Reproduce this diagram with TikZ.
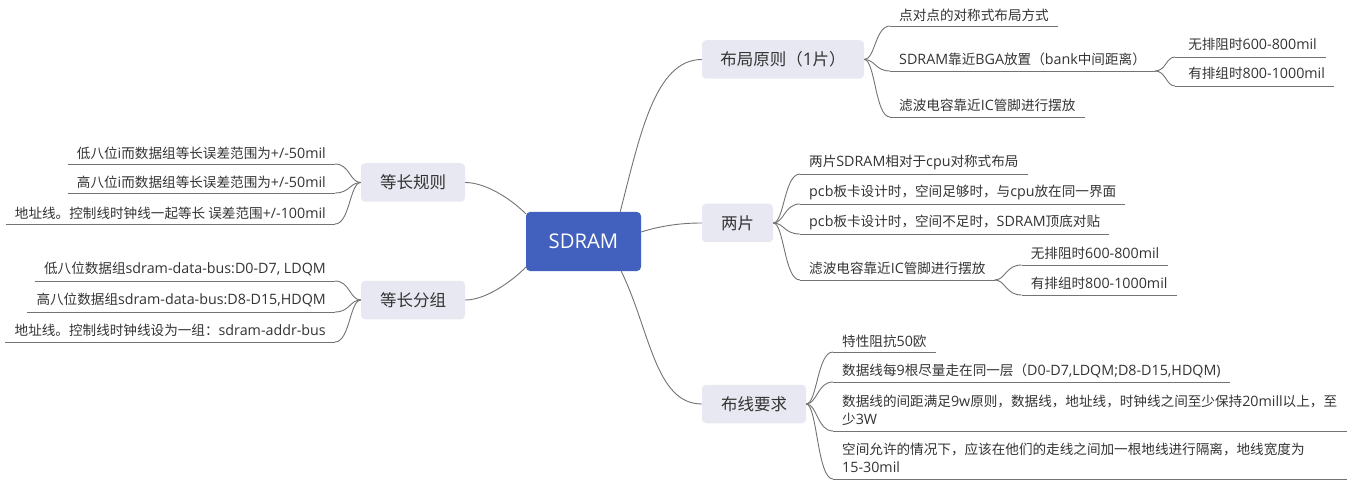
\documentclass[tikz,border=0pt]{standalone}
\usepackage{fontspec}
\setmainfont{Noto Sans CJK SC}
\newfontfamily\latf[Scale=1.05]{Open Sans}
\newcommand\LA[1]{{\latf #1}}
\usetikzlibrary{calc}
\definecolor{txt}{HTML}{333333}
\definecolor{lnc}{HTML}{737373}
\definecolor{topic}{HTML}{E8E8F2}
\definecolor{rootc}{HTML}{4260BD}
\tikzset{
  ln/.style={draw=lnc, line width=0.9pt},
  rootbox/.style={fill=rootc, rounded corners=4pt, text=white, font=\latf\fontsize{19.3}{24}\selectfont, minimum width=115pt, minimum height=59pt, inner sep=0pt},
  topicbox/.style={fill=topic, rounded corners=4pt, text=txt, font=\fontsize{16.5}{20}\selectfont, minimum height=38.5pt, inner sep=0pt},
  leaf/.style={text=txt, font=\fontsize{13.6}{18}\selectfont, inner sep=0pt, align=left},
}
\newcommand\brR[2]{\draw[ln] (#1) .. controls ($(#1)+(11,0)$) and ($(#1 |- #2)+(11,0)$) .. (#2);}
\newcommand\brL[2]{\draw[ln] (#1) .. controls ($(#1)+(-11,0)$) and ($(#1 |- #2)+(-11,0)$) .. (#2);}
\begin{document}
\begin{tikzpicture}[x=1pt,y=-1pt]
\useasboundingbox (0,0) rectangle (1347,481);
% main nodes
\node[rootbox] (root) at (583.5,241.5) {SDRAM};
\node[topicbox, minimum width=162pt] (r1) at (783,59.5) {布局原则（\LA{1}片）};
\node[topicbox, minimum width=71pt] (r2) at (737.5,223) {两片};
\node[topicbox, minimum width=104pt] (r3) at (754,404) {布线要求};
\node[topicbox, minimum width=104pt] (l1) at (413,182.5) {等长规则};
\node[topicbox, minimum width=104pt] (l2) at (413,300) {等长分组};
% root connectors
\draw[ln] ([xshift=-21pt]root.north east) .. controls (640,135) and (655,59.5) .. (r1.west);
\draw[ln] ([yshift=9.5pt]root.east) .. controls (660,226) and (680,223) .. (r2.west);
\draw[ln] ([xshift=-20pt]root.south east) .. controls (650,330) and (655,404) .. (r3.west);
\draw[ln] ([yshift=-2pt]root.north west) .. controls (510,198) and (485,182.5) .. (l1.east);
\draw[ln] ([yshift=4pt]root.south west) .. controls (510,283) and (485,300) .. (l2.east);

% ---- r1 group
\node[leaf, anchor=west] (a1) at (899,15) {点对点的对称式布局方式};
\node[leaf, anchor=west] (a2) at (899,59) {\LA{SDRAM}靠近\LA{BGA}放置（\LA{bank}中间距离）};
\node[leaf, anchor=west] (a3) at (899,105) {滤波电容靠近\LA{IC}管脚进行摆放};
\coordinate (a1u) at (890,26);
\coordinate (a2u) at (890,71);
\coordinate (a3u) at (890,117);
\brR{r1.east}{a1u}
\brR{r1.east}{a2u}
\brR{r1.east}{a3u}
\draw[ln] (a1u) -- ($(a1u -| a1.east)+(9,0)$);
\coordinate (f2) at ($(a2u -| a2.east)+(9,0)$);
\draw[ln] (a2u) -- (f2);
\draw[ln] (a3u) -- ($(a3u -| a3.east)+(9,0)$);
\node[leaf, anchor=west] (b1) at ($(f2)+(33,-27)$) {无排阻时\LA{600-800mil}};
\node[leaf, anchor=west] (b2) at ($(f2)+(33,2)$) {有排组时\LA{800-1000mil}};
\coordinate (b1u) at ($(f2)+(20,-14)$);
\coordinate (b2u) at ($(f2)+(20,15)$);
\brR{f2}{b1u}
\brR{f2}{b2u}
\draw[ln] (b1u) -- ($(b1u -| b1.east)+(9,0)$);
\draw[ln] (b2u) -- ($(b2u -| b2.east)+(9,0)$);

% ---- r2 group
\node[leaf, anchor=west] (c1) at (809,162) {两片\LA{SDRAM}相对于\LA{cpu}对称式布局};
\node[leaf, anchor=west] (c2) at (809,192) {\LA{pcb}板卡设计时，空间足够时，与\LA{cpu}放在同一界面};
\node[leaf, anchor=west] (c3) at (809,222) {\LA{pcb}板卡设计时，空间不足时，\LA{SDRAM}顶底对贴};
\node[leaf, anchor=west] (c4) at (809,268) {滤波电容靠近\LA{IC}管脚进行摆放};
\coordinate (c1u) at (800,174);
\coordinate (c2u) at (800,204);
\coordinate (c3u) at (800,234);
\coordinate (c4u) at (800,280);
\brR{r2.east}{c1u}
\brR{r2.east}{c2u}
\brR{r2.east}{c3u}
\brR{r2.east}{c4u}
\draw[ln] (c1u) -- ($(c1u -| c1.east)+(9,0)$);
\draw[ln] (c2u) -- ($(c2u -| c2.east)+(9,0)$);
\draw[ln] (c3u) -- ($(c3u -| c3.east)+(9,0)$);
\coordinate (f4) at ($(c4u -| c4.east)+(9,0)$);
\draw[ln] (c4u) -- (f4);
\node[leaf, anchor=west] (d1) at ($(f4)+(36,-27)$) {无排阻时\LA{600-800mil}};
\node[leaf, anchor=west] (d2) at ($(f4)+(36,3)$) {有排组时\LA{800-1000mil}};
\coordinate (d1u) at ($(f4)+(27,-15)$);
\coordinate (d2u) at ($(f4)+(27,15)$);
\brR{f4}{d1u}
\brR{f4}{d2u}
\draw[ln] (d1u) -- ($(d1u -| d1.east)+(9,0)$);
\draw[ln] (d2u) -- ($(d2u -| d2.east)+(9,0)$);

% ---- r3 group
\node[leaf, anchor=west] (e1) at (842,341) {特性阻抗\LA{50}欧};
\node[leaf, anchor=west] (e2) at (842,371) {数据线每\LA{9}根尽量走在同一层（\LA{D0-D7,LDQM;D8-D15,HDQM)}};
\node[leaf, anchor=west] (e3) at (842,410) {数据线的间距满足\LA{9w}原则，数据线，地址线，时钟线之间至少保持\LA{20mill}以上，至\\少\LA{3W}};
\node[leaf, anchor=west] (e4) at (842,457.5) {空间允许的情况下，应该在他们的走线之间加一根地线进行隔离，地线宽度为\\\LA{15-30mil}};
\coordinate (e1u) at (833,352);
\coordinate (e2u) at (833,382);
\coordinate (e3u) at (833,431);
\coordinate (e4u) at (833,479);
\coordinate (e3end) at (1347,431);
\coordinate (e4end) at (1347,479);
\brR{r3.east}{e1u}
\brR{r3.east}{e2u}
\brR{r3.east}{e3u}
\brR{r3.east}{e4u}
\draw[ln] (e1u) -- ($(e1u -| e1.east)+(9,0)$);
\draw[ln] (e2u) -- ($(e2u -| e2.east)+(9,0)$);
\draw[ln] (e3u) -- (e3end);
\draw[ln] (e4u) -- (e4end);

% ---- l1 group
\node[leaf, anchor=east] (p1) at (326,153) {低八位\LA{i}而数据组等长误差范围为\LA{+/-50mil}};
\node[leaf, anchor=east] (p2) at (326,182) {高八位\LA{i}而数据组等长误差范围为\LA{+/-50mil}};
\node[leaf, anchor=east] (p3) at (326,213) {地址线。控制线时钟线一起等长 误差范围\LA{+/-100mil}};
\coordinate (p1u) at (335,164);
\coordinate (p2u) at (335,193);
\coordinate (p3u) at (335,224);
\brL{l1.west}{p1u}
\brL{l1.west}{p2u}
\brL{l1.west}{p3u}
\draw[ln] (p1u) -- ($(p1.west |- p1u)+(-9,0)$);
\draw[ln] (p2u) -- ($(p2.west |- p2u)+(-9,0)$);
\draw[ln] (p3u) -- ($(p3.west |- p3u)+(-9,0)$);

% ---- l2 group
\node[leaf, anchor=east] (q1) at (326,269) {低八位数据组\LA{sdram-data-bus:D0-D7, LDQM}};
\node[leaf, anchor=east] (q2) at (326,300) {高八位数据组\LA{sdram-data-bus:D8-D15,HDQM}};
\node[leaf, anchor=east] (q3) at (326,330) {地址线。控制线时钟线设为一组：\LA{sdram-addr-bus}};
\coordinate (q1u) at (335,281);
\coordinate (q2u) at (335,312);
\coordinate (q3u) at (335,342);
\brL{l2.west}{q1u}
\brL{l2.west}{q2u}
\brL{l2.west}{q3u}
\draw[ln] (q1u) -- ($(q1.west |- q1u)+(-9,0)$);
\draw[ln] (q2u) -- ($(q2.west |- q2u)+(-9,0)$);
\draw[ln] (q3u) -- ($(q3.west |- q3u)+(-9,0)$);
\end{tikzpicture}
\end{document}
